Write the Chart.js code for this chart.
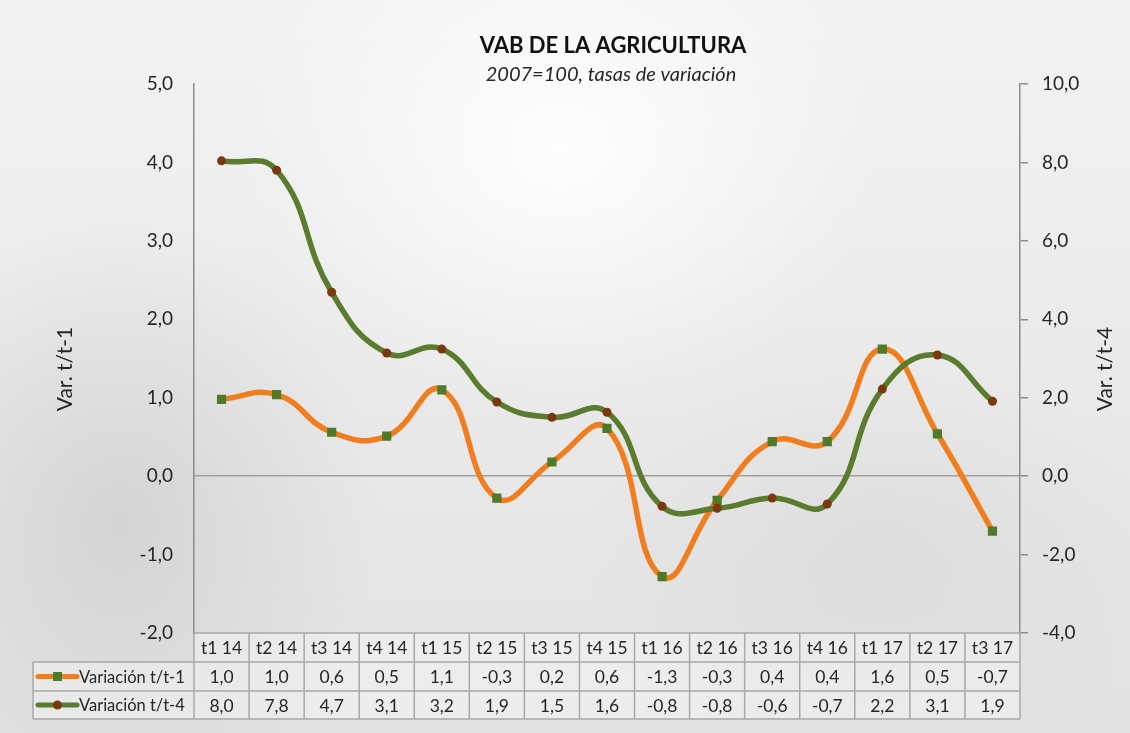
<!DOCTYPE html>
<html>
<head>
<meta charset="utf-8">
<script src="https://cdn.jsdelivr.net/npm/chart.js@4"></script>
<style>
  body { margin: 0; }
  #wrap {
    width: 1130px; height: 733px;
    background:
      radial-gradient(ellipse 320px 260px at 560px 150px, rgba(255,255,255,0.9), rgba(255,255,255,0)),
      radial-gradient(ellipse 260px 300px at 120px 520px, rgba(200,200,200,0.6), rgba(200,200,200,0)),
      radial-gradient(ellipse 300px 200px at 880px 560px, rgba(215,215,215,0.6), rgba(215,215,215,0)),
      linear-gradient(180deg, #f3f3f3 0%, #ebebeb 45%, #e2e2e2 100%);
  }
</style>
</head>
<body>
<div id="wrap"><canvas id="myChart" width="1130" height="733"></canvas></div>
<script>
var labels = ["t1 14", "t2 14", "t3 14", "t4 14", "t1 15", "t2 15", "t3 15", "t4 15",
  "t1 16", "t2 16", "t3 16", "t4 16", "t1 17", "t2 17", "t3 17"];
var varT1 = [0.98, 1.04, 0.56, 0.51, 1.1, -0.28, 0.18, 0.61, -1.28, -0.31, 0.44, 0.44, 1.62, 0.54, -0.7];
var varT4 = [8.04, 7.8, 4.69, 3.14, 3.24, 1.89, 1.5, 1.63, -0.77, -0.82, -0.56, -0.71, 2.22, 3.09, 1.91];
var leftTicks = [-2, -1, 0, 1, 2, 3, 4, 5];
var rightTicks = [-4, -2, 0, 2, 4, 6, 8, 10];

var orange = "#f07d1e";
var green = "#5b7b2f";
var sqColor = "#4e7a2a";
var dotColor = "#7a3810";
var textColor = "#262626";
var fontName = "Lato, 'Open Sans', sans-serif";

function fmt(v) {
  return v.toFixed(1).replace(".", ",");
}

// title, axis titles and the data table under the plot
var extras = {
  id: "extras",
  afterDraw: function(chart) {
    var c = chart.ctx;
    var area = chart.chartArea;
    var x = chart.scales.x;
    var cx = (area.left + area.right) / 2;
    c.save();
    c.fillStyle = "#111111";
    c.textAlign = "center";
    c.textBaseline = "middle";
    c.font = "bold 22px " + fontName;
    c.fillText("VAB DE LA AGRICULTURA", cx + 6, 46);
    c.font = "italic 20px " + fontName;
    c.fillStyle = textColor;
    c.fillText("2007=100, tasas de variación", cx + 4, 75);

    c.font = "21px " + fontName;
    c.save();
    c.translate(65, 369);
    c.rotate(-Math.PI / 2);
    c.fillText("Var. t/t-1", 0, 0);
    c.restore();
    c.save();
    c.translate(1105, 369);
    c.rotate(-Math.PI / 2);
    c.fillText("Var. t/t-4", 0, 0);
    c.restore();

    var step = (area.right - area.left) / labels.length;
    var rows = [area.bottom, 662, 691, 719];
    var legLeft = 33;
    c.fillStyle = "rgba(255,255,255,0.35)";
    c.fillRect(area.left, rows[0], area.right - area.left, rows[3] - rows[0]);
    c.fillRect(legLeft, rows[1], area.left - legLeft, rows[3] - rows[1]);
    c.strokeStyle = "#a8a8a8";
    c.lineWidth = 1.5;
    c.beginPath();
    for (var i = 0; i <= labels.length; i++) {
      var bx = area.left + i * step;
      c.moveTo(bx, rows[0]);
      c.lineTo(bx, rows[3]);
    }
    c.moveTo(legLeft, rows[1]); c.lineTo(legLeft, rows[3]);
    c.moveTo(area.left, rows[0]); c.lineTo(area.right, rows[0]);
    c.moveTo(legLeft, rows[1]); c.lineTo(area.right, rows[1]);
    c.moveTo(legLeft, rows[2]); c.lineTo(area.right, rows[2]);
    c.moveTo(legLeft, rows[3]); c.lineTo(area.right, rows[3]);
    c.stroke();

    c.fillStyle = textColor;
    c.font = "17.5px " + fontName;
    for (var j = 0; j < labels.length; j++) {
      var px = x.getPixelForValue(j);
      c.fillText(labels[j], px, (rows[0] + rows[1]) / 2 + 1);
      c.fillText(fmt(varT1[j]), px, (rows[1] + rows[2]) / 2 + 1);
      c.fillText(fmt(varT4[j]), px, (rows[2] + rows[3]) / 2 + 1);
    }

    // legend keys
    var keys = [
      { y: (rows[1] + rows[2]) / 2, line: orange, mark: sqColor, rect: true, text: "Variación t/t-1" },
      { y: (rows[2] + rows[3]) / 2, line: green, mark: dotColor, rect: false, text: "Variación t/t-4" }
    ];
    c.font = "16.5px " + fontName;
    keys.forEach(function(k) {
      c.strokeStyle = k.line;
      c.lineWidth = 5;
      c.lineCap = "round";
      c.beginPath();
      c.moveTo(38, k.y);
      c.lineTo(77, k.y);
      c.stroke();
      c.fillStyle = k.mark;
      c.beginPath();
      if (k.rect) c.rect(53, k.y - 4.5, 9, 9);
      else c.arc(57.5, k.y, 4.5, 0, Math.PI * 2);
      c.fill();
      c.fillStyle = textColor;
      c.textAlign = "left";
      c.fillText(k.text, 79, k.y + 1);
    });
    c.restore();
  }
};

var ctx = document.getElementById("myChart").getContext("2d");
var myChart = new Chart(ctx, {
  type: "line",
  data: {
    labels: labels,
    datasets: [{
      label: "Variación t/t-1",
      data: varT1,
      yAxisID: "y",
      borderColor: orange,
      borderWidth: 5.5,
      tension: 0.45,
      pointStyle: "rect",
      pointRadius: 6.5,
      pointBackgroundColor: sqColor,
      pointBorderWidth: 0,
      order: 1
    }, {
      label: "Variación t/t-4",
      data: varT4,
      yAxisID: "y1",
      borderColor: green,
      borderWidth: 5.5,
      tension: 0.45,
      pointStyle: "circle",
      pointRadius: 4.5,
      pointBackgroundColor: dotColor,
      pointBorderWidth: 0,
      order: 0
    }]
  },
  options: {
    responsive: false,
    animation: false,
    layout: { padding: { top: 84, bottom: 100, left: 0, right: 0 } },
    plugins: {
      legend: { display: false },
      tooltip: { enabled: false }
    },
    scales: {
      x: {
        display: false,
        offset: true
      },
      y: {
        position: "left",
        min: -2,
        max: 5,
        afterBuildTicks: function(s) { s.ticks = leftTicks.map(function(v) { return { value: v }; }); },
        afterFit: function(s) { s.width = 194; },
        ticks: {
          color: textColor,
          font: { family: fontName, size: 19 },
          padding: 21,
          callback: function(v) { return fmt(v); }
        },
        grid: {
          drawTicks: false,
          lineWidth: 1.5,
          color: function(c) { return c.tick && c.tick.value === 0 ? "#a0a0a0" : "rgba(0,0,0,0)"; }
        },
        border: { display: true, color: "#8c8c8c", width: 1.5 }
      },
      y1: {
        position: "right",
        min: -4,
        max: 10,
        afterBuildTicks: function(s) { s.ticks = rightTicks.map(function(v) { return { value: v }; }); },
        afterFit: function(s) { s.width = 110; },
        ticks: {
          color: textColor,
          font: { family: fontName, size: 19 },
          padding: 14,
          callback: function(v) { return fmt(v); }
        },
        grid: {
          drawOnChartArea: false,
          tickLength: 8,
          color: "#8c8c8c",
          lineWidth: 1.5
        },
        border: { display: true, color: "#8c8c8c", width: 1.5 }
      }
    }
  },
  plugins: [extras]
});
</script>
</body>
</html>
